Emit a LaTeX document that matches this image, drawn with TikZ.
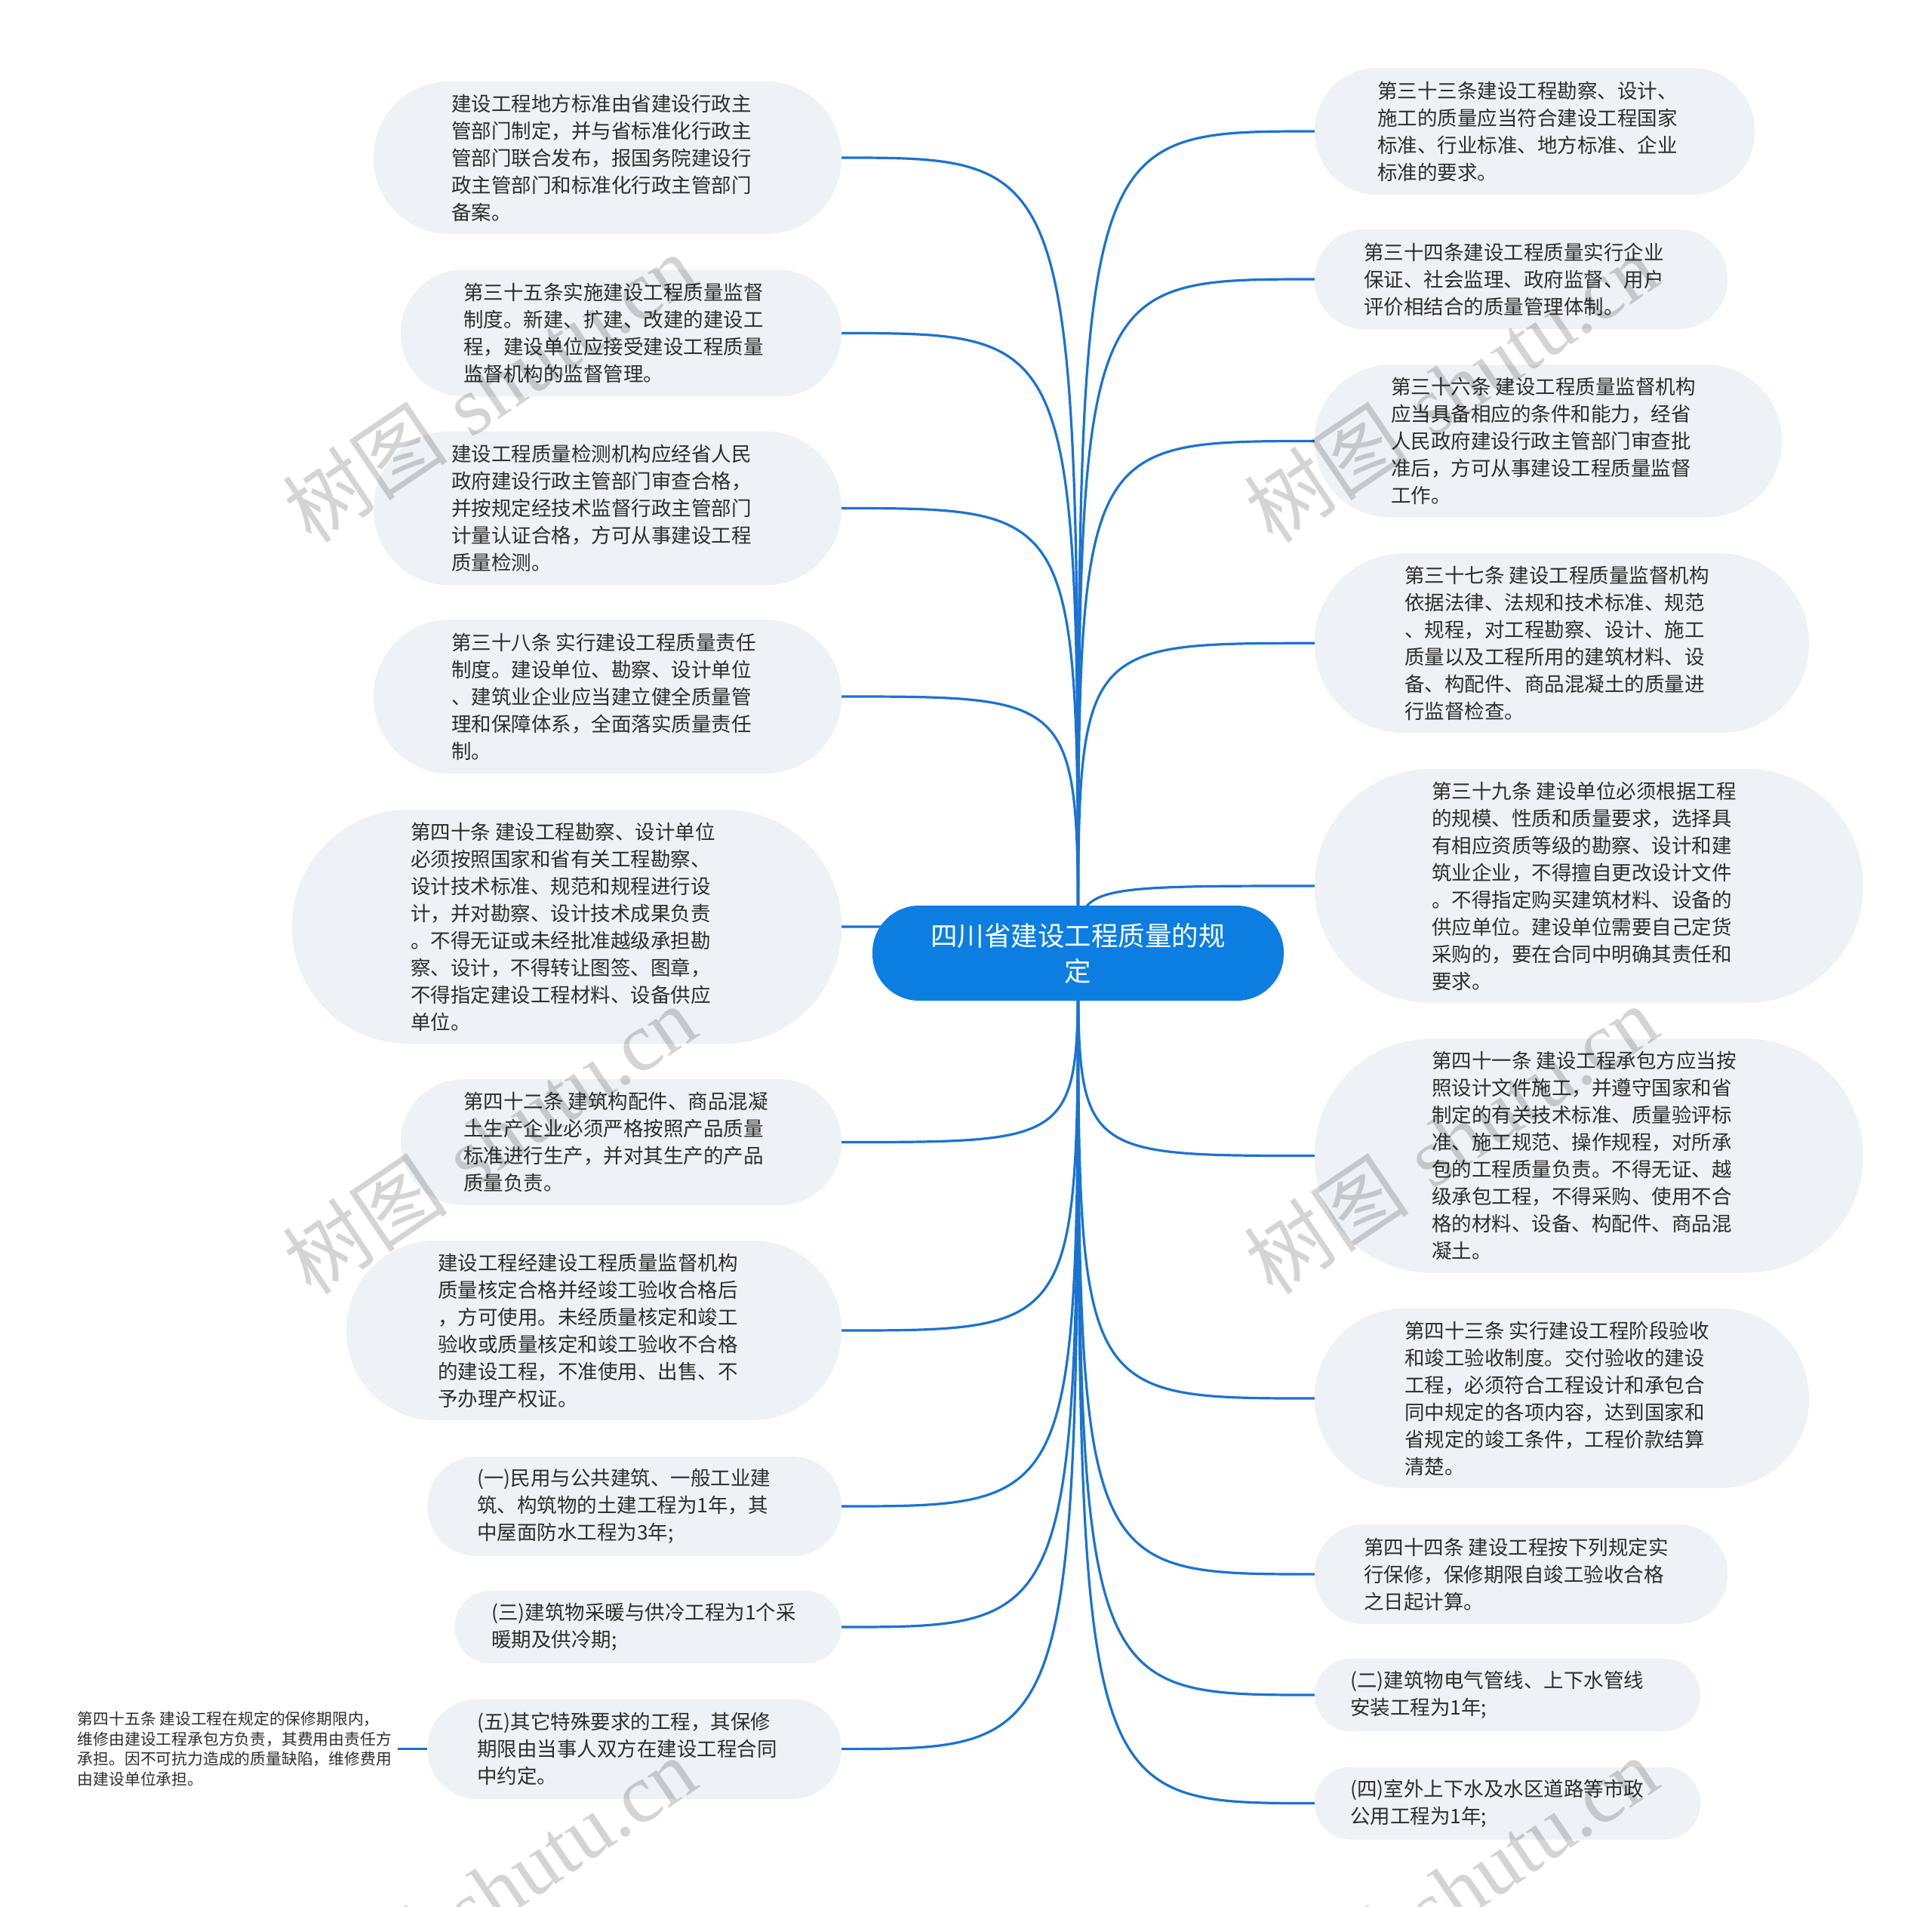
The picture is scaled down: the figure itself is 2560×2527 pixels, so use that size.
\documentclass[tikz,border=0pt]{standalone}
\usepackage{fontspec}
\newfontfamily\cjk{Noto Sans CJK SC}
\newfontfamily\wmlat{Liberation Serif}
\pgfdeclarelayer{bg}
\pgfdeclarelayer{fg}
\pgfsetlayers{bg,main,fg}
\definecolor{connblue}{RGB}{26,115,210}
\definecolor{rootblue}{RGB}{12,126,226}
\definecolor{boxgray}{RGB}{238,241,245}
\definecolor{txtdark}{RGB}{45,45,45}
\tikzset{
  mmbox/.style={draw=none, fill=boxgray, inner sep=0pt},
  mmtext/.style={inner sep=0pt, align=left, text=txtdark, font=\cjk\fontsize{26.5}{36}\selectfont},
  mmsmall/.style={inner ysep=0pt, inner xsep=8pt, align=left, text=txtdark, font=\cjk\fontsize{20.8}{26.7}\selectfont},
  conn/.style={draw=connblue, line width=3.2pt},
  rootbox/.style={fill=rootblue, draw=none, rounded corners=62pt, minimum width=545pt, minimum height=126pt, text=white, align=center, inner sep=0pt, font=\cjk\fontsize{35.5}{47}\selectfont},
  wm/.style={text=black, text opacity=0.17, inner sep=0pt, font=\fontsize{110}{110}\selectfont}
}
% name, cx, cy, w, h, radius, textx, text
\newcommand\mmnode[8]{%
  \node[mmbox, minimum width=#4pt, minimum height=#5pt, rounded corners=#6pt] (#1) at (#2,#3) {};
  \node[mmtext, anchor=west] (#1t) at (#7,#3) {#8};
}
\begin{document}
\begin{tikzpicture}[x=1pt,y=-1pt]
\useasboundingbox (0,0) rectangle (2560,2527);
\begin{pgfonlayer}{bg}
\fill[white] (0,0) rectangle (2560,2527);
\end{pgfonlayer}

\node[rootbox] (root) at (1428.5,1263) {四川省建设工程质量的规\\定};

% left side
\mmnode{l1}{805}{209}{620}{202}{100}{598}{建设工程地方标准由省建设行政主\\管部门制定，并与省标准化行政主\\管部门联合发布，报国务院建设行\\政主管部门和标准化行政主管部门\\备案。}
\mmnode{l2}{823}{441.5}{584}{168}{83}{614}{第三十五条实施建设工程质量监督\\制度。新建、扩建、改建的建设工\\程，建设单位应接受建设工程质量\\监督机构的监督管理。}
\mmnode{l3}{805}{673.5}{620}{204}{101}{598}{建设工程质量检测机构应经省人民\\政府建设行政主管部门审查合格，\\并按规定经技术监督行政主管部门\\计量认证合格，方可从事建设工程\\质量检测。}
\mmnode{l4}{805}{923}{620}{204}{101}{598}{第三十八条 实行建设工程质量责任\\制度。建设单位、勘察、设计单位\\、建筑业企业应当建立健全质量管\\理和保障体系，全面落实质量责任\\制。}
\mmnode{l5}{751}{1228}{728}{310}{154}{544}{第四十条 建设工程勘察、设计单位\\必须按照国家和省有关工程勘察、\\设计技术标准、规范和规程进行设\\计，并对勘察、设计技术成果负责\\。不得无证或未经批准越级承担勘\\察、设计，不得转让图签、图章，\\不得指定建设工程材料、设备供应\\单位。}
\mmnode{l6}{823}{1513.5}{584}{167}{83}{614}{第四十二条 建筑构配件、商品混凝\\土生产企业必须严格按照产品质量\\标准进行生产，并对其生产的产品\\质量负责。}
\mmnode{l7}{787}{1763}{656}{238}{118}{580}{建设工程经建设工程质量监督机构\\质量核定合格并经竣工验收合格后\\，方可使用。未经质量核定和竣工\\验收或质量核定和竣工验收不合格\\的建设工程，不准使用、出售、不\\予办理产权证。}
\mmnode{l8}{840.75}{1996}{548.5}{132}{65}{632}{(一)民用与公共建筑、一般工业建\\筑、构筑物的土建工程为1年，其\\中屋面防水工程为3年;}
\mmnode{l9}{858.75}{2156}{512.5}{96}{47.5}{651}{(三)建筑物采暖与供冷工程为1个采\\暖期及供冷期;}
\mmnode{l10}{840.75}{2317.6}{548.5}{132}{65}{632}{(五)其它特殊要求的工程，其保修\\期限由当事人双方在建设工程合同\\中约定。}
\node[mmsmall, anchor=east] (l11) at (527,2317.6) {第四十五条 建设工程在规定的保修期限内，\\维修由建设工程承包方负责，其费用由责任方\\承担。因不可抗力造成的质量缺陷，维修费用\\由建设单位承担。};

% right side
\mmnode{r1}{2033.5}{174}{583}{168}{83}{1825}{第三十三条建设工程勘察、设计、\\施工的质量应当符合建设工程国家\\标准、行业标准、地方标准、企业\\标准的要求。}
\mmnode{r2}{2015.5}{370}{547}{132}{65}{1807}{第三十四条建设工程质量实行企业\\保证、社会监理、政府监督、用户\\评价相结合的质量管理体制。}
\mmnode{r3}{2051.5}{584.5}{619}{202}{100}{1843}{第三十六条 建设工程质量监督机构\\应当具备相应的条件和能力，经省\\人民政府建设行政主管部门审查批\\准后，方可从事建设工程质量监督\\工作。}
\mmnode{r4}{2069.5}{852.3}{655}{238}{118}{1861}{第三十七条 建设工程质量监督机构\\依据法律、法规和技术标准、规范\\、规程，对工程勘察、设计、施工\\质量以及工程所用的建筑材料、设\\备、构配件、商品混凝土的质量进\\行监督检查。}
\mmnode{r5}{2105.3}{1174}{726.6}{310}{154}{1897}{第三十九条 建设单位必须根据工程\\的规模、性质和质量要求，选择具\\有相应资质等级的勘察、设计和建\\筑业企业，不得擅自更改设计文件\\。不得指定购买建筑材料、设备的\\供应单位。建设单位需要自己定货\\采购的，要在合同中明确其责任和\\要求。}
\mmnode{r6}{2105.3}{1531.5}{726.6}{310}{154}{1897}{第四十一条 建设工程承包方应当按\\照设计文件施工，并遵守国家和省\\制定的有关技术标准、质量验评标\\准、施工规范、操作规程，对所承\\包的工程质量负责。不得无证、越\\级承包工程，不得采购、使用不合\\格的材料、设备、构配件、商品混\\凝土。}
\mmnode{r7}{2069.5}{1853}{655}{238}{118}{1861}{第四十三条 实行建设工程阶段验收\\和竣工验收制度。交付验收的建设\\工程，必须符合工程设计和承包合\\同中规定的各项内容，达到国家和\\省规定的竣工条件，工程价款结算\\清楚。}
\mmnode{r8}{2015.5}{2086}{547}{132}{65}{1807}{第四十四条 建设工程按下列规定实\\行保修，保修期限自竣工验收合格\\之日起计算。}
\mmnode{r9}{1997.5}{2246}{511}{96}{47.5}{1789}{(二)建筑物电气管线、上下水管线\\安装工程为1年;}
\mmnode{r10}{1997.5}{2389.5}{511}{96}{47.5}{1789}{(四)室外上下水及水区道路等市政\\公用工程为1年;}

\begin{pgfonlayer}{bg}
\foreach \n in {l1,l2,l3,l4,l5,l6,l7,l8,l9,l10}
  \draw[conn] (root.center) .. controls (root.center |- \n.east) .. (\n.east);
\foreach \n in {r1,r2,r3,r4,r5,r6,r7,r8,r9,r10}
  \draw[conn] (root.center) .. controls (root.center |- \n.west) .. (\n.west);
\draw[conn] (l10.west) -- (l11.east);
\end{pgfonlayer}

\begin{pgfonlayer}{fg}
\begin{scope}
\clip (0,0) rectangle (2560,2527);
\foreach \x/\y/\k in {648/514/1, 1922/514/2, 648/1510/3, 1922/1510/4, 648/2506/5, 1922/2506/6}
  \node[wm, rotate=34] (wm\k) at (\x,\y) {{\cjk 树图} {\wmlat shutu.cn}};
\end{scope}
\end{pgfonlayer}
\end{tikzpicture}
\end{document}
